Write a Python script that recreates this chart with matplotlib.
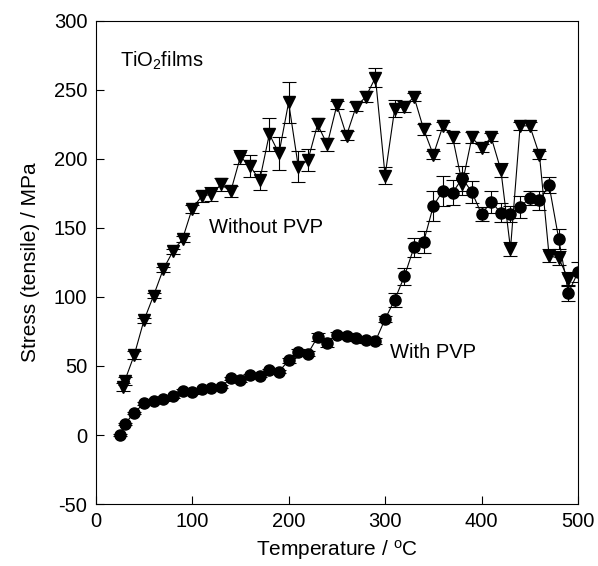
import numpy as np
import matplotlib
matplotlib.use('Agg')
import matplotlib.pyplot as plt

plt.rcParams['font.family'] = ['Liberation Sans', 'DejaVu Sans']
plt.rcParams['mathtext.fontset'] = 'custom'
plt.rcParams['mathtext.rm'] = 'Liberation Sans'
plt.rcParams['mathtext.it'] = 'Liberation Sans:italic'
plt.rcParams['axes.unicode_minus'] = False

# without PVP (triangles)
t_no = [28, 30, 40, 50, 60, 70, 80, 90, 100, 110, 120, 130, 140, 150, 160, 170, 180, 190,
        200, 210, 220, 230, 240, 250, 260, 270, 280, 290, 300, 310, 320, 330, 340, 350,
        360, 370, 380, 390, 400, 410, 420, 430, 440, 450, 460, 470, 480, 490]
s_no = [35, 39, 58, 83, 101, 120, 133, 142, 164, 173, 174.5, 181.5, 176.5, 201.5, 195, 184.5,
        218, 204, 241, 194.5, 199, 225, 210.5, 239, 217, 238, 245, 259, 188, 236.5, 238, 245,
        221.5, 203, 224, 215.7, 182, 215.7, 207.7, 215.7, 192, 135, 224, 224, 203, 130, 128, 113]
e_no = [3, 3, 3, 2, 2, 2, 2, 2, 3, 4, 5, 5, 4, 5, 8, 7, 12, 12, 15, 11, 8, 5, 5, 3, 3, 3,
        4, 7, 6, 6, 4, 3, 4, 3, 3, 4, 8, 4, 3, 3, 5, 5, 3, 3, 3, 5, 5, 5]

# with PVP (circles)
t_pvp = [25, 30, 40, 50, 60, 70, 80, 90, 100, 110, 120, 130, 140, 150, 160, 170, 180, 190,
         200, 210, 220, 230, 240, 250, 260, 270, 280, 290, 300, 310, 320, 330, 340, 350,
         360, 370, 380, 390, 400, 410, 420, 430, 440, 450, 460, 470, 480, 490, 500]
s_pvp = [0, 8, 16, 23, 25, 26, 28, 32, 31, 33, 34, 35, 41, 39.5, 43.5, 42.8, 47, 46, 54, 60,
         59, 71, 67, 72.5, 71.7, 70, 69, 68, 84, 98, 115, 136, 140, 166, 177, 175.5, 186, 176,
         160, 169, 161, 160, 165, 172, 170, 181, 142, 103, 118]
e_pvp = [1, 1, 1, 1, 1, 1, 1, 1, 1, 1, 1, 1, 1, 1, 1, 1, 1, 1, 2, 2, 2, 3, 3, 2, 2, 2,
         2, 2, 2, 5, 6, 7, 8, 11, 11, 9, 9, 8, 5, 8, 7, 6, 8, 5, 7, 6, 7, 6, 7]

fig = plt.figure(figsize=(5.98, 5.66), dpi=100)
ax = fig.add_axes([0.16, 0.1095, 0.8066, 0.8535])

ax.errorbar(t_no, s_no, yerr=e_no, fmt='-v', color='k', ms=9, lw=0.8,
            elinewidth=0.8, capsize=5, capthick=0.8)
ax.errorbar(t_pvp, s_pvp, yerr=e_pvp, fmt='-o', color='k', ms=8, lw=0.8,
            elinewidth=0.8, capsize=5, capthick=0.8)

ax.set_xlim(0, 500)
ax.set_ylim(-50, 300)
ax.set_xticks([0, 100, 200, 300, 400, 500])
ax.set_yticks([-50, 0, 50, 100, 150, 200, 250, 300])
ax.tick_params(direction='in', length=6, width=0.8, labelsize=14.5, pad=6,
               top=False, right=False)
for sp in ax.spines.values():
    sp.set_linewidth(0.8)

ax.set_xlabel('Temperature / $^{\\mathrm{o}}$C', fontsize=15, labelpad=5)
ax.set_ylabel('Stress (tensile) / MPa', fontsize=15, labelpad=10)

ax.text(25, 271, 'TiO$_2$films', fontsize=14.5, va='center')
ax.text(117, 150, 'Without PVP', fontsize=14.5, va='center')
ax.text(305, 60, 'With PVP', fontsize=14.5, va='center')

fig.savefig('out.png', dpi=100)
